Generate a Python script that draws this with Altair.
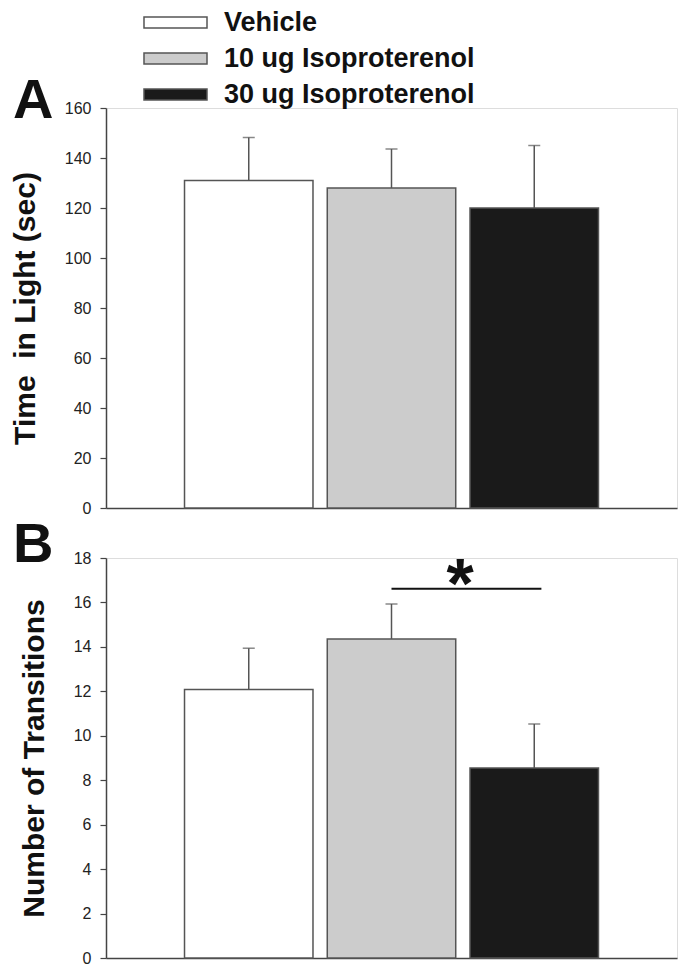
import altair as alt
import pandas as pd

# ---- data ----
groups = ["Vehicle", "10 ug Isoproterenol", "30 ug Isoproterenol"]
fills = ["#ffffff", "#cccccc", "#1a1a1a"]

time_mean = [131.0, 128.0, 120.0]
time_sem = [17.2, 15.6, 25.0]

trans_mean = [12.08, 14.36, 8.55]
trans_sem = [1.86, 1.57, 1.98]

time_ticks = [0, 20, 40, 60, 80, 100, 120, 140, 160]
trans_ticks = [0, 2, 4, 6, 8, 10, 12, 14, 16, 18]

sig_x = [2.0, 3.05]     # significance bar between 10 ug and 30 ug
sig_y = [16.62]
star_x = [2.48]
star_y = [15.75]
star_text = ["*"]

panel_labels = ["A", "B"]
y_titles = ["Time\u00a0 in Light (sec)", "Number of Transitions"]

FONT = "Liberation Sans"
EDGE = "#555555"
HALF = 0.45


def make_df(means, sems):
    rows = []
    for i, (g, m, s) in enumerate(zip(groups, means, sems)):
        pos = i + 1
        rows.append({"group": g, "pos": pos, "lo": pos - HALF, "hi": pos + HALF,
                     "mean": m, "upper": m + s})
    return pd.DataFrame(rows)


def panel(df, ticks, ymax, ytitle, label, label_y, show_legend, extra=None):
    xscale = alt.Scale(domain=[0, 4], nice=False, zero=False)
    yscale = alt.Scale(domain=[0, ymax], nice=False)
    xaxis = alt.Axis(title=None, labels=False, ticks=False, grid=False,
                     domainColor="#444444", domainWidth=1.5)
    yaxis = alt.Axis(title=ytitle, values=ticks, grid=False, tickSize=6,
                     tickColor="#444444", tickWidth=1.2, domainColor="#444444",
                     domainWidth=1.5, labelFont=FONT, labelFontSize=16,
                     labelColor="#222222", labelPadding=9, titleFont=FONT,
                     titleFontSize=30, titleFontWeight="bold", titleColor="#111111",
                     titlePadding=24)
    if show_legend:
        legend = alt.Legend(orient="none", legendX=56, legendY=-99, title=None,
                            symbolType="M-2.864,-0.5H2.864V0.5H-2.864Z", symbolSize=484,
                            symbolStrokeColor=EDGE, symbolStrokeWidth=1.5,
                            symbolOpacity=1, labelFont=FONT, labelFontSize=27,
                            labelFontWeight="bold", labelColor="#111111",
                            labelOffset=35, labelLimit=0, rowPadding=8)
    else:
        legend = None
    base = alt.Chart(df)
    bars = base.mark_rect(stroke=EDGE, strokeWidth=1.5).encode(
        x=alt.X("lo:Q", scale=xscale, axis=xaxis),
        x2="hi:Q",
        y=alt.Y("mean:Q", scale=yscale, axis=yaxis),
        y2=alt.datum(0),
        fill=alt.Fill("group:N", scale=alt.Scale(domain=groups, range=fills),
                      legend=legend, sort=groups),
    )
    err = base.mark_rule(color=EDGE, strokeWidth=1.5).encode(
        x="pos:Q", y="mean:Q", y2="upper:Q")
    caps = base.mark_tick(orient="horizontal", size=12, thickness=1.5,
                          color=EDGE).encode(x="pos:Q", y="upper:Q")
    lab = alt.Chart(pd.DataFrame({"t": [label]})).mark_text(
        font=FONT, fontSize=56, fontWeight="bold", align="left",
        baseline="alphabetic", color="#111111").encode(
        x=alt.value(-93), y=alt.value(label_y), text="t:N")
    layers = [bars, err, caps, lab]
    if extra is not None:
        layers += extra
    return alt.layer(*layers).properties(width=571, height=400)


dfA = make_df(time_mean, time_sem)
dfB = make_df(trans_mean, trans_sem)

sig_df = pd.DataFrame({"x": [sig_x[0]], "x2": [sig_x[1]], "y": sig_y})
sig_line = alt.Chart(sig_df).mark_rule(color="#111111", strokeWidth=2).encode(
    x="x:Q", x2="x2:Q", y="y:Q")
star_df = pd.DataFrame({"x": star_x, "y": star_y, "t": star_text})
star = alt.Chart(star_df).mark_text(font=FONT, fontSize=70, fontWeight="bold",
                                    baseline="alphabetic", align="center",
                                    color="#111111").encode(
    x="x:Q", y="y:Q", text="t:N")

pA = panel(dfA, time_ticks, 160, y_titles[0], panel_labels[0], 10, True)
pB = panel(dfB, trans_ticks, 18, y_titles[1], panel_labels[1], 4, False,
           extra=[sig_line, star])

chart = alt.vconcat(pA, pB, spacing=50, bounds="flush").properties(
    padding={"left": 1, "top": 1, "right": 0, "bottom": 0}
).configure_view(stroke=None).configure(background="white")

chart.save("out.html", embed_options={"renderer": "svg", "actions": False})
